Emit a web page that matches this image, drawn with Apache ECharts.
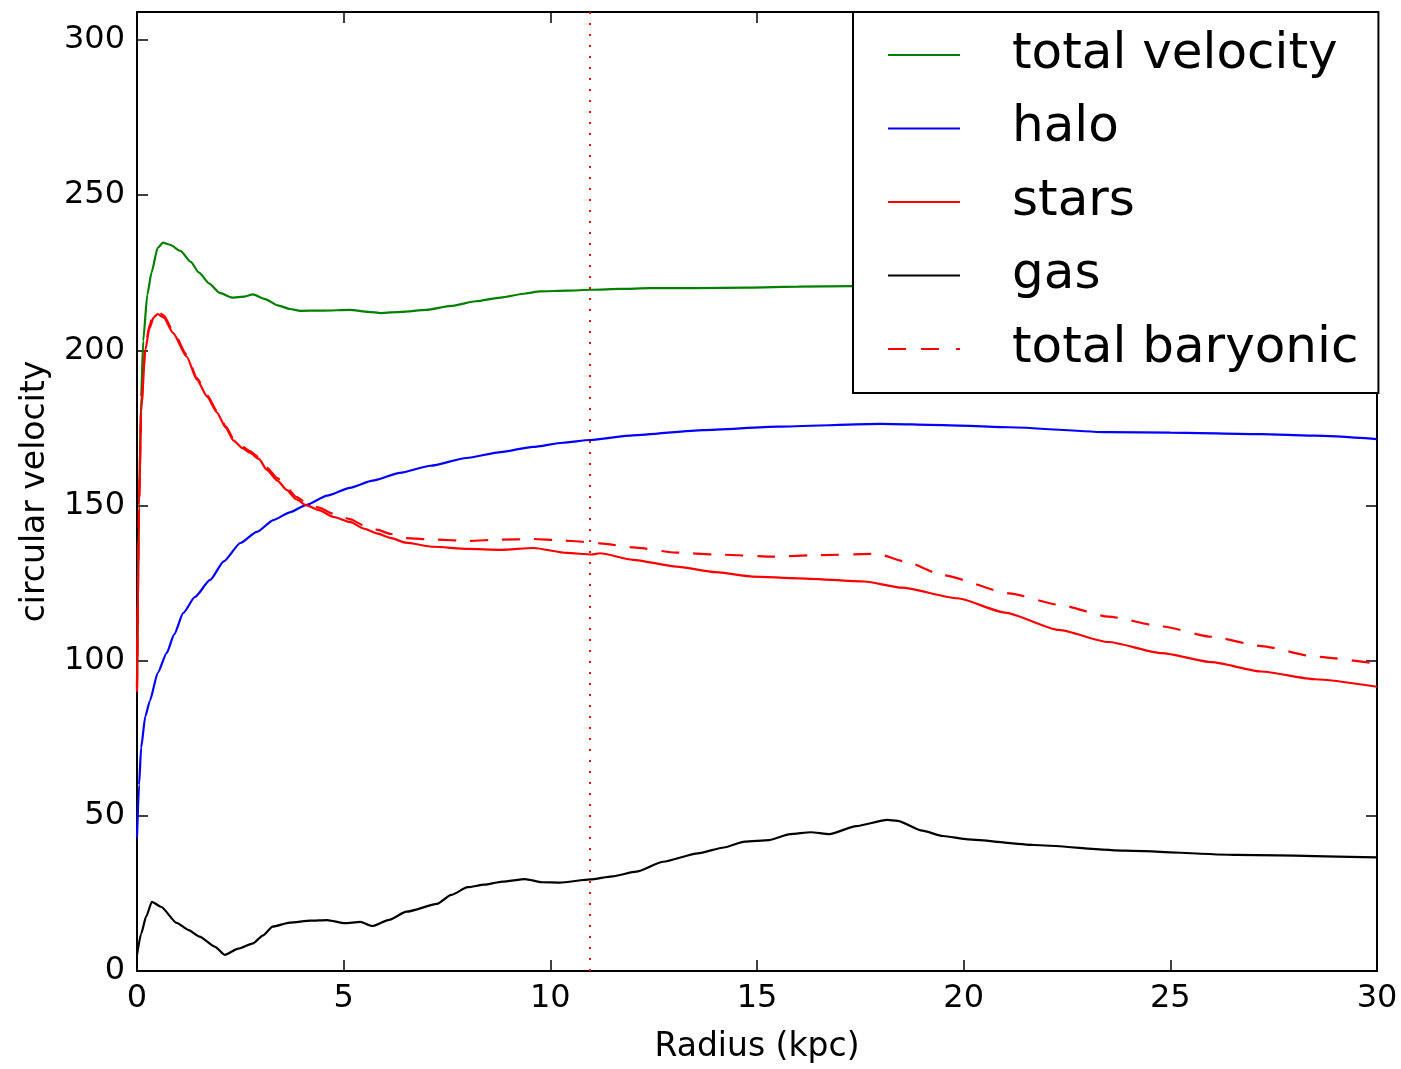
<!DOCTYPE html>
<html>
<head>
<meta charset="utf-8">
<script src="https://cdn.jsdelivr.net/npm/echarts@6/dist/echarts.min.js"></script>
<style>
html,body{margin:0;padding:0;background:#fff;}
#chart{width:1401px;height:1069px;}
</style>
</head>
<body>
<div id="chart"></div>
<script>
// ---- data ----
const seriesNames = ['total velocity', 'halo', 'stars', 'gas', 'total baryonic'];

const rTotal = [0, 0.05, 0.1, 0.15, 0.25, 0.35, 0.5, 0.63, 0.8, 1.05, 1.3, 1.5, 1.75, 2.0, 2.3, 2.6, 2.8, 3.1, 3.4, 3.7, 3.95, 4.5, 5.15, 5.6, 5.9, 6.4, 7.0, 7.6, 8.2, 8.8, 9.4, 9.75, 10.4, 11, 11.7, 12.4, 13.5, 14.8, 16, 17.3, 19, 21, 24, 27, 30];
const vTotal = [92, 150, 185, 203, 218, 225, 233, 234.7, 234, 232, 228.5, 225, 221.5, 218.5, 217, 217.3, 218, 216.5, 214.5, 213.3, 212.7, 212.8, 213, 212.4, 212, 212.4, 213, 214.3, 215.8, 217, 218.3, 219, 219.2, 219.5, 219.8, 220, 220, 220.2, 220.5, 220.7, 221, 221, 221, 221, 221];

const rHalo = [0, 0.05, 0.1, 0.2, 0.31, 0.5, 0.72, 0.9, 1.12, 1.4, 1.77, 2.1, 2.5, 2.9, 3.3, 3.7, 4.1, 4.6, 5.15, 5.7, 6.36, 7.1, 7.97, 8.8, 9.58, 10.3, 10.96, 12, 13.7, 15.5, 18.0, 19.5, 21.1, 23.5, 25, 27.2, 28.5, 30];
const vHalo = [43, 60, 72, 82, 87, 96, 102.5, 108.5, 115.4, 120.5, 126, 132, 137.9, 141.5, 145.3, 147.8, 150.2, 153.2, 155.7, 158, 160.5, 162.8, 165.3, 167.2, 168.9, 170.2, 171.1, 172.6, 174.3, 175.4, 176.3, 175.9, 175.2, 173.6, 173.5, 173, 172.5, 171.4];

const rStars = [0, 0.05, 0.1, 0.2, 0.3, 0.4, 0.5, 0.65, 0.87, 1.2, 1.45, 1.7, 1.93, 2.15, 2.33, 2.55, 2.73, 2.95, 3.14, 3.4, 3.62, 3.85, 4.1, 4.4, 4.75, 5.15, 5.5, 5.8, 6.15, 6.5, 7.17, 8, 8.8, 9.6, 10.4, 11, 11.2, 12, 13.05, 14, 14.9, 16, 17.6, 18.5, 19.85, 21, 22.3, 23.5, 24.8, 26, 27.2, 28.5, 30];
const vStars = [90, 150, 180, 200, 207, 210.5, 211.7, 210.5, 205.6, 198, 190.5, 185, 180, 175, 171, 168.5, 167, 165, 161.5, 158, 155, 152, 150, 148.5, 146.3, 144.7, 142.5, 141, 139.5, 138, 136.7, 136, 135.7, 136.3, 134.7, 134.2, 134.6, 132.5, 130.3, 128.5, 127.1, 126.5, 125.5, 123.5, 120.1, 115.5, 109.9, 106, 102.4, 99.5, 96.5, 94, 91.6];

const rGas = [0, 0.1, 0.22, 0.36, 0.58, 0.96, 1.25, 1.51, 1.89, 2.12, 2.45, 2.81, 3.05, 3.28, 3.7, 4.2, 4.6, 5.03, 5.4, 5.69, 6.1, 6.52, 7.26, 7.6, 8.0, 8.4, 8.84, 9.39, 9.8, 10.23, 10.97, 11.5, 12.08, 12.73, 13.57, 14.2, 14.7, 15.3, 15.8, 16.3, 16.75, 17.4, 18.15, 18.4, 19.0, 19.5, 20.1, 21.7, 23.9, 26.6, 30];
const vGas = [5.2, 12, 17.5, 22.3, 20.7, 15.5, 13.2, 11.1, 7.8, 5.2, 7.2, 8.9, 11.5, 14.3, 15.6, 16.2, 16.4, 15.4, 15.8, 14.5, 16.5, 19.1, 21.6, 24.5, 27, 27.8, 28.8, 29.6, 28.6, 28.5, 29.5, 30.5, 32, 35.2, 37.9, 39.8, 41.7, 42.2, 44.1, 44.7, 44.1, 46.7, 48.7, 48.4, 45.2, 43.5, 42.4, 40.6, 38.8, 37.4, 36.6];

const rBary = [0, 0.05, 0.1, 0.2, 0.3, 0.4, 0.5, 0.65, 0.87, 1.2, 1.45, 1.7, 1.93, 2.15, 2.33, 2.55, 2.73, 2.95, 3.14, 3.4, 3.62, 3.85, 4.1, 4.4, 4.75, 5.15, 5.5, 5.8, 6.15, 6.5, 7.2, 8, 8.8, 9.6, 10.2, 10.8, 11.2, 12, 13.05, 14, 15.4, 16.5, 17.9, 18.6, 19.5, 21.1, 22.3, 23.5, 24.8, 26, 27.2, 28.5, 30];
const vBary = [91, 151, 181, 201, 208, 211.5, 212.5, 211.2, 206.3, 198.6, 191, 185.5, 180.5, 175.5, 171.5, 169, 167.5, 165.5, 162.2, 158.8, 155.8, 152.8, 150.8, 149.3, 147.3, 145.6, 143.5, 142.2, 140.8, 139.5, 139, 138.6, 139, 139.2, 138.8, 138.3, 137.8, 136.5, 134.8, 134.2, 133.5, 134, 134.4, 131.9, 127.5, 121.7, 118, 114.2, 111, 107.7, 104.7, 101.3, 99];

const markerRadius = 10.95;   // vertical dotted line (kpc)
const xRange = [0, 30];
const yRange = [0, 309];
const xTickStep = 5;
const yTickStep = 50;
const xLabel = 'Radius (kpc)';
const yLabel = 'circular velocity';

// ---- chart ----
const pair = (r, v) => r.map((x, i) => [x, v[i]]);
const FONT = 'DejaVu Sans';
const SOLID_ICON = 'path://M0,0H72V2H0Z';
const DASH_ICON = 'path://M0,0H18V2H0Z M33,0H51V2H33Z M68,0H72V2H68Z';

function lineSeries(name, r, v, color, type) {
  return {
    name: name, type: 'line', data: pair(r, v),
    symbol: 'none', smooth: 0.2, smoothMonotone: 'x', animation: false,
    xAxisIndex: 0, yAxisIndex: 0,
    lineStyle: { color: color, width: 2.2, type: type || 'solid' },
    itemStyle: { color: color },
    z: 3
  };
}

const colors = ['#008000', '#0000ff', '#ff0000', '#000000', '#ff0000'];
const series = [
  lineSeries(seriesNames[0], rTotal, vTotal, colors[0]),
  lineSeries(seriesNames[1], rHalo, vHalo, colors[1]),
  lineSeries(seriesNames[2], rStars, vStars, colors[2]),
  lineSeries(seriesNames[3], rGas, vGas, colors[3]),
  lineSeries(seriesNames[4], rBary, vBary, colors[4], [18, 14])
];
series[2].markLine = {
  silent: true, symbol: 'none', animation: false,
  label: { show: false },
  lineStyle: { color: '#ff0000', type: [2, 9], width: 2 },
  data: [{ xAxis: markerRadius }]
};

const axisCommon = {
  axisLine: { show: true, onZero: false, lineStyle: { color: '#000', width: 2 } },
  axisTick: { show: true, inside: true, length: 11, lineStyle: { color: '#000', width: 1.5 } },
  splitLine: { show: false },
};

const chart = echarts.init(document.getElementById('chart'), null, { renderer: 'canvas' });
chart.setOption({
  backgroundColor: '#fff',
  animation: false,
  grid: { left: 137, right: 24, top: 12, bottom: 98, containLabel: false },
  legend: {
    data: seriesNames.map((n, i) => ({ name: n, icon: i === 4 ? DASH_ICON : SOLID_ICON, itemStyle: { color: colors[i] } })),
    orient: 'vertical',
    left: 853, top: 12,
    padding: [18, 20, 19, 35],
    itemWidth: 72, itemHeight: 2, itemGap: 23.5,
    backgroundColor: '#fff',
    borderColor: '#000', borderWidth: 2, borderRadius: 0,
    textStyle: { fontFamily: FONT, fontSize: 50, lineHeight: 50, color: '#000', padding: [0, 0, 0, 47] },
    selectedMode: false,
    z: 10
  },
  xAxis: [
    Object.assign({
      type: 'value', position: 'bottom', min: xRange[0], max: xRange[1], interval: xTickStep,
      name: xLabel, nameLocation: 'middle', nameGap: 60,
      nameTextStyle: { fontFamily: FONT, fontSize: 33, color: '#000' },
      axisLabel: { fontFamily: FONT, fontSize: 32, color: '#000', margin: 12 }
    }, axisCommon),
    Object.assign({
      type: 'value', position: 'top', min: xRange[0], max: xRange[1], interval: xTickStep,
      axisLabel: { show: false }
    }, axisCommon)
  ],
  yAxis: [
    Object.assign({
      type: 'value', position: 'left', min: yRange[0], max: yRange[1], interval: yTickStep,
      name: yLabel, nameLocation: 'middle', nameGap: 85, nameRotate: 90,
      nameTextStyle: { fontFamily: FONT, fontSize: 33, color: '#000' },
      axisLabel: { fontFamily: FONT, fontSize: 32, color: '#000', margin: 12, showMaxLabel: false,
        formatter: v => (v % yTickStep === 0 ? String(v) : '') }
    }, axisCommon),
    Object.assign({
      type: 'value', position: 'right', min: yRange[0], max: yRange[1], interval: yTickStep,
      axisLabel: { show: false }
    }, axisCommon)
  ],
  series: series
});
</script>
</body>
</html>
